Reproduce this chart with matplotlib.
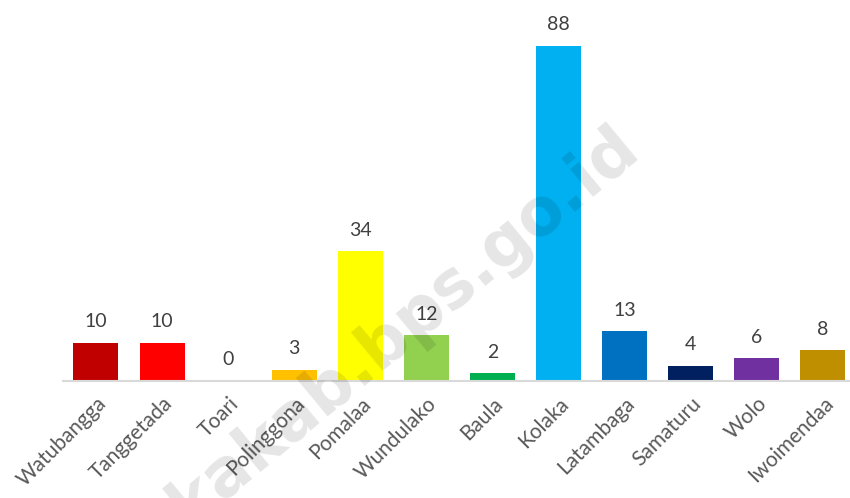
import matplotlib.pyplot as plt

districts = ["Watubangga", "Tanggetada", "Toari", "Polinggona", "Pomalaa", "Wundulako",
             "Baula", "Kolaka", "Latambaga", "Samaturu", "Wolo", "Iwoimendaa"]
values = [10, 10, 0, 3, 34, 12, 2, 88, 13, 4, 6, 8]
colors = ["#C00000", "#FF0000", "#A5A5A5", "#FFC000", "#FFFF00", "#92D050",
          "#00B050", "#00B0F0", "#0070C0", "#002060", "#7030A0", "#BF8F00"]

plt.rcParams["font.family"] = ["Lato", "DejaVu Sans"]

fig = plt.figure(figsize=(8.5, 4.98), dpi=100)
ax = fig.add_axes([0.074, 0.235, 0.933, 0.765])

x = range(len(districts))
ax.bar(x, values, width=0.68, color=colors, zorder=2)
for xi, v in zip(x, values):
    ax.text(xi, v + 3.3, str(v), ha="center", va="bottom", fontsize=14, color="#404040")

ax.set_xlim(-0.5, len(districts) - 0.5)
ax.set_ylim(0, 100)
ax.set_xticks(list(x))
ax.set_xticklabels(districts, rotation=45, ha="right", rotation_mode="anchor",
                   fontsize=15, color="#595959")
ax.tick_params(axis="x", length=0, pad=9)
ax.set_yticks([])
for side in ["top", "right", "left"]:
    ax.spines[side].set_visible(False)
ax.spines["bottom"].set_color("#D9D9D9")
ax.spines["bottom"].set_linewidth(1.5)

# watermark
fig.text(0.475, 0.345, "kakab.bps.go.id", rotation=39.6, ha="center", va="center",
         fontsize=47, fontweight="bold", color="#000000", alpha=0.1, zorder=5,
         family=["DejaVu Sans"])

fig.savefig("out.png", dpi=100)
